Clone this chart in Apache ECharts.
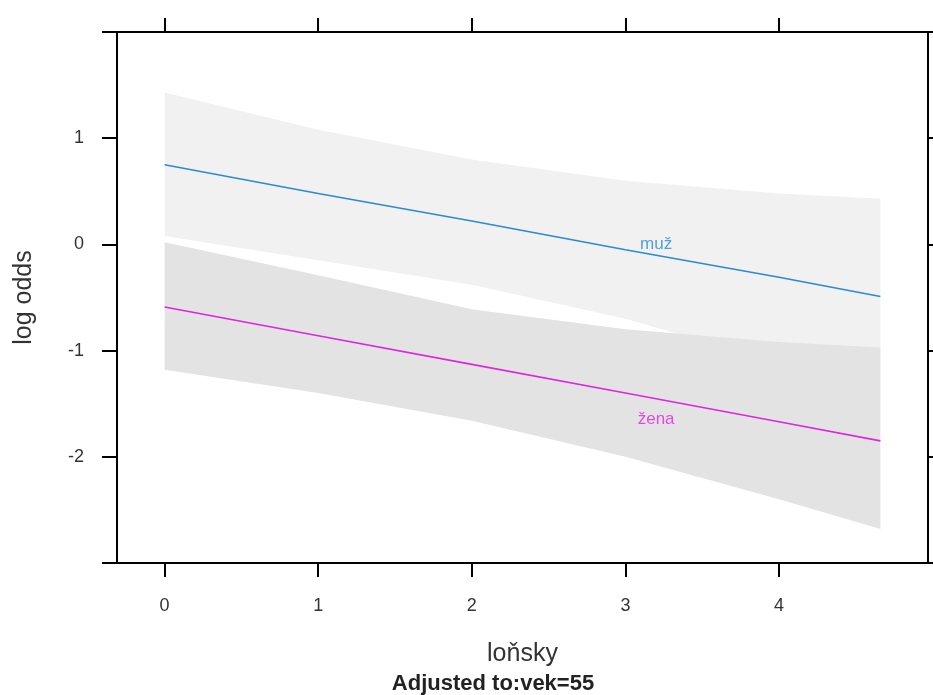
<!DOCTYPE html>
<html>
<head>
    <meta charset="utf-8" />
    <script src="https://cdn.jsdelivr.net/npm/echarts@6/dist/echarts.min.js"></script>
    <style type="text/css">
        html, body { margin: 0; padding: 0; background: #fff; }
        #main { width: 933px; height: 695px; }
    </style>
</head>
<body>
    <div id="main"></div>
    <script type="text/javascript">
        // hodnoty
        var xs = [0, 1, 2, 3, 4, 4.66];
        var muzFit = [0.75, 0.48, 0.22, -0.05, -0.31, -0.49];
        var muzUpper = [1.43, 1.08, 0.80, 0.60, 0.48, 0.43];
        var muzLower = [0.08, -0.15, -0.38, -0.70, -1.12, -1.42];
        var zenaFit = [-0.59, -0.86, -1.13, -1.40, -1.67, -1.85];
        var zenaUpper = [0.02, -0.29, -0.61, -0.80, -0.92, -0.97];
        var zenaLower = [-1.18, -1.40, -1.66, -2.00, -2.40, -2.68];
        var xTicks = [0, 1, 2, 3, 4];
        var yTicks = [-3, -2, -1, 0, 1, 2];
        var yLabels = [-2, -1, 0, 1];
        var groupNames = ["muž", "žena"];
        var groupLabelPos = [[3.2, 0.0], [3.2, -1.65]];

        var font = "Liberation Sans, Arial, sans-serif";
        var muzColor = "#2a8bd3";
        var zenaColor = "#e024e0";

        function pairs(a) {
            return xs.map(function (x, i) { return [x, a[i]]; });
        }

        // pás spolehlivosti jako jeden polygon přes api.coord
        function band(upper, lower, color) {
            return {
                type: "custom", silent: true,
                data: xs.map(function (x, i) { return [x, lower[i], upper[i]]; }),
                encode: { x: 0, y: [1, 2] },
                renderItem: function (params, api) {
                    if (params.dataIndex !== 0) return;
                    var n = xs.length, top = [], bot = [];
                    for (var i = 0; i < n; i++) {
                        top.push(api.coord([api.value(0, i), api.value(2, i)]));
                        bot.push(api.coord([api.value(0, i), api.value(1, i)]));
                    }
                    return {
                        type: "polygon",
                        shape: { points: top.concat(bot.reverse()) },
                        style: { fill: color }
                    };
                }
            };
        }

        var chart = echarts.init(document.getElementById("main"));

        var axisLine = { show: true, onZero: false, lineStyle: { color: "#000", width: 2 } };
        var tickStyle = { color: "#000", width: 2 };

        var option = {
            animation: false,
            grid: { left: 117, right: 5, top: 32, bottom: 132 },
            xAxis: [
                {
                    type: "value", position: "bottom", min: -0.31, max: 4.97,
                    name: "loňsky", nameLocation: "middle", nameGap: 79,
                    nameTextStyle: { fontFamily: font, fontSize: 25, color: "#333" },
                    axisLine: axisLine,
                    axisTick: { show: true, inside: false, length: 14, customValues: xTicks, lineStyle: tickStyle },
                    axisLabel: { show: true, customValues: xTicks, margin: 34, fontFamily: font, fontSize: 18, color: "#333" },
                    splitLine: { show: false }
                },
                {
                    type: "value", position: "top", min: -0.31, max: 4.97,
                    axisLine: axisLine,
                    axisTick: { show: true, inside: false, length: 14, customValues: xTicks, lineStyle: tickStyle },
                    axisLabel: { show: false },
                    splitLine: { show: false }
                }
            ],
            yAxis: [
                {
                    type: "value", position: "left", min: -3, max: 2,
                    name: "log odds", nameLocation: "middle", nameGap: 80,
                    nameTextStyle: { fontFamily: font, fontSize: 25, color: "#333" },
                    axisLine: axisLine,
                    axisTick: { show: true, inside: false, length: 15, customValues: yTicks, lineStyle: tickStyle },
                    axisLabel: { show: true, customValues: yLabels, margin: 33, fontFamily: font, fontSize: 18, color: "#333" },
                    splitLine: { show: false }
                },
                {
                    type: "value", position: "right", min: -3, max: 2,
                    axisLine: axisLine,
                    axisTick: { show: true, inside: false, length: 15, customValues: yTicks, lineStyle: tickStyle },
                    axisLabel: { show: false },
                    splitLine: { show: false }
                }
            ],
            series: [
                band(muzUpper, muzLower, "#f1f1f1"),
                band(zenaUpper, zenaLower, "#e3e3e3"),
                {
                    name: groupNames[0], type: "line", data: pairs(muzFit),
                    symbol: "none", lineStyle: { color: muzColor, width: 1.6 }
                },
                {
                    name: groupNames[1], type: "line", data: pairs(zenaFit),
                    symbol: "none", lineStyle: { color: zenaColor, width: 1.6 }
                },
                {
                    type: "scatter", symbolSize: 0, silent: true,
                    data: groupNames.map(function (n, i) {
                        return {
                            name: n, value: groupLabelPos[i],
                            label: { color: i === 0 ? muzColor : zenaColor }
                        };
                    }),
                    label: {
                        show: true, position: "inside", formatter: "{b}",
                        fontFamily: font, fontSize: 17
                    }
                }
            ],
            graphic: [
                {
                    type: "text",
                    style: {
                        text: "Adjusted to:vek=55", x: 493, y: 684,
                        textAlign: "center", textVerticalAlign: "middle",
                        font: "bold 22px " + font, fill: "#222"
                    }
                }
            ]
        };

        chart.setOption(option);
    </script>
</body>
</html>
